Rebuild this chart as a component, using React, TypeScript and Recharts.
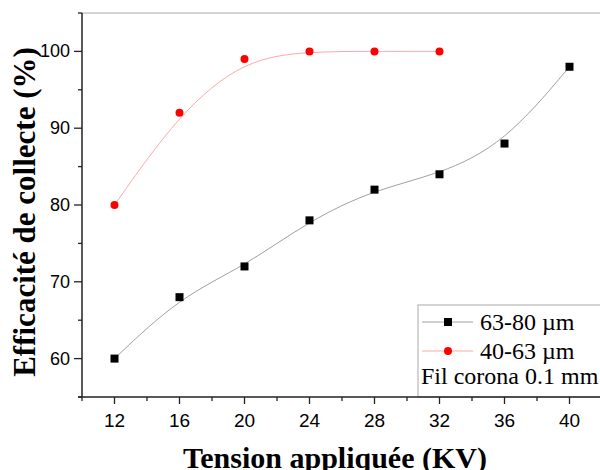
import React from "react";
import {
  Customized,
  Line,
  LineChart,
  ReferenceLine,
  XAxis,
  YAxis,
} from "recharts";

// Tension appliquée (KV)
const voltages = [12, 16, 20, 24, 28, 32, 36, 40];
// Efficacité de collecte (%) par granulométrie
const eff6380 = [60, 68, 72, 78, 82, 84, 88, 98];
const eff4063 = [80, 92, 99, 100, 100, 100];

const xTicks = [10, 12, 14, 16, 18, 20, 22, 24, 26, 28, 30, 32, 34, 36, 38, 40, 42];
const xLabels = [12, 16, 20, 24, 28, 32, 36, 40];
const yTicks = [55, 60, 65, 70, 75, 80, 85, 90, 95, 100, 105];
const yLabels = [60, 70, 80, 90, 100];

const data6380 = voltages.map((v, i) => ({ v, eff: eff6380[i] }));
const data4063 = eff4063.map((e, i) => ({ v: voltages[i], eff: e }));

const sans = "'Liberation Sans', Arial, sans-serif";
const serif = "'Liberation Serif', 'Times New Roman', serif";

const XTick = ({ x, y, payload }: any) => {
  const major = xLabels.includes(payload.value);
  return (
    <g>
      <line x1={x} x2={x} y1={y} y2={y + (major ? 7 : 4)} stroke="#222" strokeWidth={1.3} />
      {major && (
        <text x={x} y={y + 23} textAnchor="middle" dominantBaseline="central" fontSize={19} fontFamily={sans} fill="#000">
          {payload.value}
        </text>
      )}
    </g>
  );
};

const YTick = ({ x, y, payload }: any) => {
  const major = yLabels.includes(payload.value);
  return (
    <g>
      <line x1={x} x2={x - (major ? 8 : 4)} y1={y} y2={y} stroke="#222" strokeWidth={1.3} />
      {major && (
        <text x={x - 12} y={y} textAnchor="end" dominantBaseline="central" fontSize={18} fontFamily={sans} fill="#000">
          {payload.value}
        </text>
      )}
    </g>
  );
};

const Square = ({ cx, cy, index }: any) => (
  <rect key={`sq-${index}`} x={cx - 4} y={cy - 4} width={8} height={8} fill="#000" />
);

const Circle = ({ cx, cy, index }: any) => (
  <circle key={`ci-${index}`} cx={cx} cy={cy} r={4} fill="#ff0000" />
);

const Extras = () => (
  <g>
    <text
      x={35}
      y={212}
      transform="rotate(-90, 35, 212)"
      textAnchor="middle"
      fontSize={31}
      fontWeight="bold"
      fontFamily={serif}
      fill="#000"
    >
      Efficacité de collecte (%)
    </text>
    <text x={335} y={468} textAnchor="middle" fontSize={30} fontWeight="bold" fontFamily={serif} fill="#000">
      Tension appliquée (KV)
    </text>

    {/* legend box */}
    <rect x={418} y={305} width={200} height={92} fill="#fff" stroke="#aaa" />
    <line x1={422} x2={473} y1={322} y2={322} stroke="#888" strokeWidth={0.8} />
    <rect x={444} y={318} width={8} height={8} fill="#000" />
    <text x={480} y={322} dominantBaseline="central" fontSize={24} fontFamily={serif} fill="#000">
      63-80 µm
    </text>
    <line x1={422} x2={473} y1={351} y2={351} stroke="#ffa8a8" strokeWidth={1} />
    <circle cx={448} cy={351} r={4} fill="#ff0000" />
    <text x={480} y={351} dominantBaseline="central" fontSize={24} fontFamily={serif} fill="#000">
      40-63 µm
    </text>
    <text x={421} y={376} dominantBaseline="central" fontSize={24} fontFamily={serif} fill="#000">
      Fil corona 0.1 mm
    </text>
    {/* small axis overhang */}
    <line x1={78} x2={82} y1={397} y2={397} stroke="#222" strokeWidth={1.5} />
  </g>
);

export default function App() {
  return (
    <div style={{ position: "absolute", left: 0, top: 0, width: 600, height: 470, overflow: "hidden", background: "#fff" }}>
      <LineChart width={602} height={470} margin={{ top: 13, right: 0, bottom: 0, left: 81 }}>
        <XAxis
          dataKey="v"
          type="number"
          domain={[10, 42]}
          ticks={xTicks}
          interval={0}
          height={73}
          tickSize={0}
          tickMargin={0}
          tickLine={false}
          tick={<XTick />}
          axisLine={{ stroke: "#222", strokeWidth: 1.5 }}
          allowDataOverflow
        />
        <YAxis
          type="number"
          domain={[55, 105]}
          ticks={yTicks}
          interval={0}
          width={1}
          tickSize={0}
          tickMargin={0}
          tickLine={false}
          tick={<YTick />}
          axisLine={{ stroke: "#222", strokeWidth: 1.5 }}
          allowDataOverflow
        />
        <ReferenceLine y={105} stroke="#aaa" />
        <Line
          data={data6380}
          dataKey="eff"
          type="basis"
          stroke="#888"
          strokeWidth={0.8}
          dot={<Square />}
          activeDot={false}
          isAnimationActive={false}
        />
        <Line
          data={data4063}
          dataKey="eff"
          type="basis"
          stroke="#ffa8a8"
          strokeWidth={1}
          dot={<Circle />}
          activeDot={false}
          isAnimationActive={false}
        />
        <Customized component={<Extras />} />
      </LineChart>
    </div>
  );
}
